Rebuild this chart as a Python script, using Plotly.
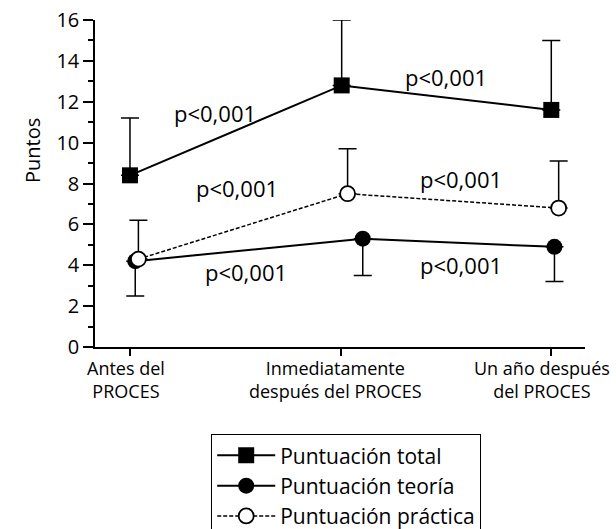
import plotly.graph_objects as go

categories = ["Antes del<br>PROCES", "Inmediatamente<br>después del PROCES", "Un año después<br>del PROCES"]
cat_index = [0, 1, 2]

total_vals = [8.4, 12.8, 11.6]
total_err_up = [2.8, 3.2, 3.4]

teoria_vals = [4.2, 5.3, 4.9]
teoria_err_down = [1.7, 1.8, 1.7]

practica_vals = [4.3, 7.5, 6.8]
practica_err_up = [1.9, 2.2, 2.3]

series_names = ["Puntuación total", "Puntuación teoría", "Puntuación práctica"]
y_title = "Puntos"
p_labels = ["p<0,001"] * 6

FONT = "Open Sans"

# horizontal dodge per series (style)
off_total = [0.0, 0.005, 0.0]
off_teoria = [0.025, 0.105, 0.015]
off_practica = [0.04, 0.033, 0.035]

def shift(xs, offs):
    return [x + o for x, o in zip(xs, offs)]

fig = go.Figure()

fig.add_trace(go.Scatter(
    x=shift(cat_index, off_total), y=total_vals, name=series_names[0],
    mode="lines+markers",
    line=dict(color="black", width=2),
    marker=dict(symbol="square", size=16, color="black"),
    error_y=dict(type="data", symmetric=False, array=total_err_up,
                 arrayminus=[0, 0, 0], color="black", thickness=1.5, width=9),
))
fig.add_trace(go.Scatter(
    x=shift(cat_index, off_teoria), y=teoria_vals, name=series_names[1],
    mode="lines+markers",
    line=dict(color="black", width=2),
    marker=dict(symbol="circle", size=16, color="black"),
    error_y=dict(type="data", symmetric=False, array=[0, 0, 0],
                 arrayminus=teoria_err_down, color="black", thickness=1.5, width=9),
))
fig.add_trace(go.Scatter(
    x=shift(cat_index, off_practica), y=practica_vals, name=series_names[2],
    mode="lines+markers",
    line=dict(color="black", width=1.5, dash="4px,2px"),
    marker=dict(symbol="circle", size=15, color="white",
                line=dict(color="black", width=1.8)),
    error_y=dict(type="data", symmetric=False, array=practica_err_up,
                 arrayminus=[0, 0, 0], color="black", thickness=1.5, width=9),
))

# p-value annotations (text positions)
p_pos = [(0.405, 11.45), (1.5, 13.2), (0.51, 7.78), (1.57, 8.2), (0.55, 3.65), (1.57, 4.02)]
for (px, py), t in zip(p_pos, p_labels):
    fig.add_annotation(x=px, y=py, xref="x", yref="y", text=t, showarrow=False,
                       font=dict(family=FONT, size=22, color="black"))

# category labels under axis
lab_off = [-0.017, -0.024, -0.043]
for i, c in enumerate(categories):
    fig.add_annotation(x=cat_index[i] + lab_off[i], y=0, xref="x", yref="paper",
                       yshift=-7, yanchor="top", text=c, showarrow=False,
                       font=dict(family=FONT, size=18, color="black"))

# y-axis title
fig.add_annotation(x=(32 - 95) / 490, y=(347 - 151) / 327, xref="paper", yref="paper",
                   text=y_title, textangle=-90, showarrow=False,
                   xanchor="center", yanchor="middle",
                   font=dict(family=FONT, size=20, color="black"))

fig.update_layout(
    width=616, height=529,
    margin=dict(l=95, r=31, t=20, b=182, autoexpand=False),
    paper_bgcolor="white", plot_bgcolor="white",
    font=dict(family=FONT, color="black"),
    showlegend=True,
    legend=dict(xref="container", yref="container", x=211/616, y=1-434/529,
                xanchor="left", yanchor="top",
                bordercolor="black", borderwidth=1.2,
                font=dict(family=FONT, size=21, color="black"),
                tracegroupgap=0, itemwidth=58, entrywidth=220, entrywidthmode="pixels"),
    xaxis=dict(range=[-0.166, 2.16], tickvals=cat_index, showticklabels=False,
               showgrid=False, zeroline=False, showline=True, linecolor="black",
               linewidth=1.5, ticks="outside", ticklen=7, tickwidth=1.5, tickcolor="black"),
    yaxis=dict(range=[0, 16], tickvals=list(range(0, 17, 2)),
               showgrid=False, zeroline=False, showline=True, linecolor="black",
               linewidth=1.5, ticks="outside", ticklen=10, tickwidth=1.5, tickcolor="black",
               tickfont=dict(family=FONT, size=20, color="black"),
               minor=dict(tickvals=list(range(1, 16, 2)), ticks="outside", ticklen=5,
                          tickwidth=1.5, tickcolor="black")),
)

fig.write_html("out.html", config={"displayModeBar": False},
               post_script="document.body.style.margin='0px';document.body.style.overflow='hidden';")
